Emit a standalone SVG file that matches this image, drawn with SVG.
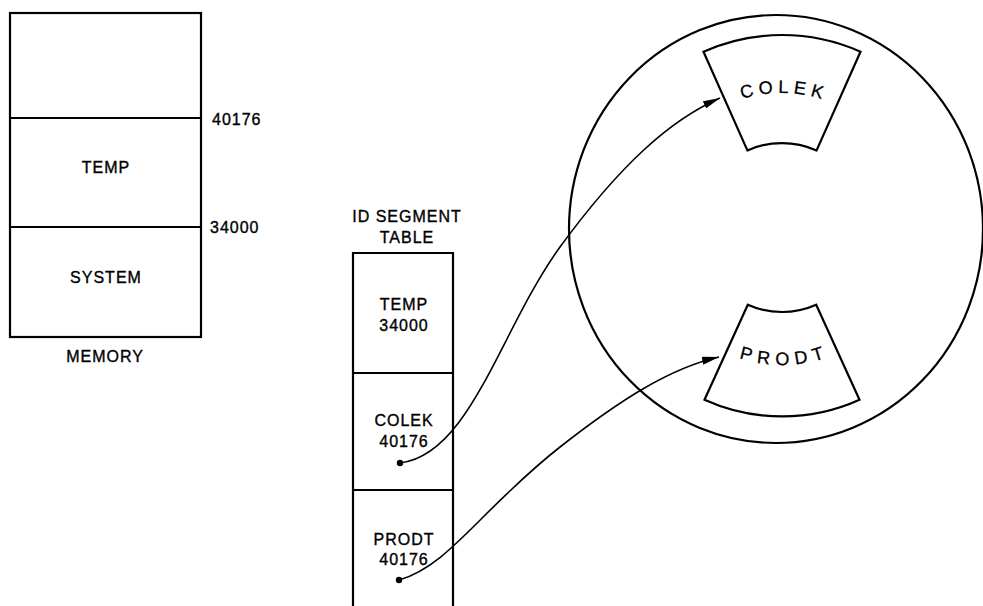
<svg xmlns="http://www.w3.org/2000/svg" width="983" height="606" viewBox="0 0 983 606">
<style>
.box{fill:none;stroke:#000;stroke-width:2.2}
.t{font-family:"Liberation Sans",Arial,sans-serif;font-size:16px;fill:#000;stroke:#000;stroke-width:0.35;letter-spacing:1px}
.c{text-anchor:middle}
.arc{font-family:"Liberation Sans",Arial,sans-serif;font-size:18px;fill:#000;stroke:#000;stroke-width:0.3}
.conn{fill:none;stroke:#000;stroke-width:1.6}
</style>
<defs>
<marker id="ah" markerWidth="17" markerHeight="8" refX="17" refY="4" orient="auto" markerUnits="userSpaceOnUse">
<path d="M0,0 L17,4 L0,8 Z" fill="#000"/>
</marker>
<path id="colekPath" d="M731.4,102.8 A135 135 0 0 1 832.6,102.8"/>
<path id="prodtPath" d="M730.7,355 A137 137 0 0 0 833.3,355"/>
</defs>
<rect width="983" height="606" fill="#fff"/>

<g id="memory">
<rect class="box" x="10" y="13" width="191" height="324"/>
<line class="box" x1="10" y1="118" x2="201" y2="118"/>
<line class="box" x1="10" y1="227" x2="201" y2="227"/>
<text class="t c" x="106" y="173">TEMP</text>
<text class="t c" x="106" y="283">SYSTEM</text>
<text class="t c" x="105" y="362">MEMORY</text>
<text class="t" x="212" y="125">40176</text>
<text class="t" x="210" y="233">34000</text>
</g>

<g id="id-segment-table">
<text class="t c" x="407" y="222" stroke-width="0.6">ID SEGMENT</text>
<text class="t c" x="407" y="243" stroke-width="0.6">TABLE</text>
<path class="box" d="M353,620 L353,253 L453,253 L453,620"/>
<line class="box" x1="353" y1="373" x2="453" y2="373"/>
<line class="box" x1="353" y1="490" x2="453" y2="490"/>
<text class="t c" x="404" y="310">TEMP</text>
<text class="t c" x="404" y="331">34000</text>
<text class="t c" x="404" y="426">COLEK</text>
<text class="t c" x="404" y="447">40176</text>
<text class="t c" x="404" y="545">PRODT</text>
<text class="t c" x="404" y="565">40176</text>
<circle cx="400" cy="463" r="3.2" fill="#000"/>
<circle cx="399" cy="580" r="3.2" fill="#000"/>
</g>

<g id="disk">
<ellipse class="box" cx="776" cy="229" rx="207" ry="214"/>
</g>

<g id="colek-segment">
<path class="box" d="M703.5,51.7 A193 193 0 0 1 860.5,51.7 L816.6,150.4 A85 85 0 0 0 747.4,150.4 Z"/>
<text class="arc" letter-spacing="5"><textPath href="#colekPath" startOffset="11">COLEK</textPath></text>
</g>

<g id="prodt-segment">
<path class="box" d="M747.8,304.7 A84 84 0 0 0 816.2,304.7 L859.5,399.7 A188 188 0 0 1 704.5,399.7 Z"/>
<text class="arc" letter-spacing="6"><textPath href="#prodtPath" startOffset="9">PRODT</textPath></text>
</g>

<g id="connectors">
<path class="conn" d="M400,463 C470,455 500,330 560,247 C620,165 670,120 720,98" marker-end="url(#ah)"/>
<path class="conn" d="M399,580 C450,565 480,510 560,447 C620,400 670,368 719,357" marker-end="url(#ah)"/>
</g>
</svg>
